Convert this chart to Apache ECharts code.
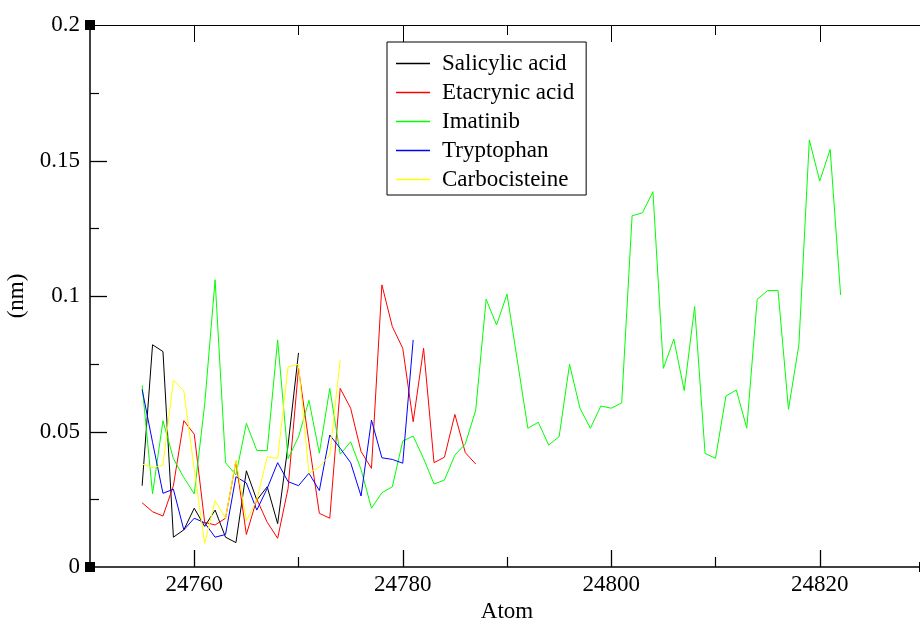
<!DOCTYPE html>
<html>
<head>
<meta charset="utf-8">
<script src="https://cdn.jsdelivr.net/npm/echarts@6/dist/echarts.min.js"></script>
<style>
html,body{margin:0;padding:0;background:#fff;}
#chart{width:920px;height:624px;}
</style>
</head>
<body>
<div id="chart"></div>
<script>
// Atom numbers (x values)
var atoms = [24755,24756,24757,24758,24759,24760,24761,24762,24763,24764,
  24765,24766,24767,24768,24769,24770,24771,24772,24773,24774,
  24775,24776,24777,24778,24779,24780,24781,24782,24783,24784,
  24785,24786,24787,24788,24789,24790,24791,24792,24793,24794,
  24795,24796,24797,24798,24799,24800,24801,24802,24803,24804,
  24805,24806,24807,24808,24809,24810,24811,24812,24813,24814,
  24815,24816,24817,24818,24819,24820,24821,24822];

var seriesNames = ["Salicylic acid","Etacrynic acid","Imatinib","Tryptophan","Carbocisteine"];

var salicylic = [0.030,0.082,0.0795,0.011,0.0137,0.0217,0.015,0.021,0.011,0.009,
  0.0355,0.0247,0.0296,0.016,0.045,0.079];

var etacrynic = [0.0237,0.0204,0.0188,0.030,0.054,0.049,0.0165,0.0155,0.018,0.039,
  0.012,0.025,0.0165,0.0106,0.029,0.0733,0.046,0.0198,0.018,0.0659,
  0.0586,0.0426,0.0364,0.1041,0.0887,0.0807,0.0536,0.0807,0.0385,0.0405,
  0.0563,0.0422,0.038];

var imatinib = [0.067,0.027,0.054,0.040,0.033,0.027,0.060,0.106,0.0385,0.034,
  0.053,0.043,0.043,0.0838,0.040,0.048,0.0615,0.042,0.0659,0.0416,
  0.0462,0.036,0.0217,0.0274,0.0296,0.0465,0.0483,0.040,0.0306,0.0321,
  0.0413,0.0454,0.0579,0.0988,0.0893,0.1007,0.076,0.0512,0.0534,0.045,
  0.0481,0.0748,0.0586,0.0512,0.0594,0.0586,0.0605,0.1296,0.1307,0.1385,
  0.0733,0.0841,0.0651,0.0961,0.0419,0.0401,0.0631,0.0653,0.0512,0.0988,
  0.102,0.102,0.0582,0.082,0.1576,0.1424,0.1541,0.1004];

var tryptophan = [0.0655,0.046,0.0272,0.0287,0.0137,0.018,0.0163,0.011,0.012,0.0333,
  0.031,0.021,0.029,0.0385,0.0315,0.030,0.0346,0.0282,0.0487,0.0438,
  0.0385,0.0262,0.0542,0.0403,0.0397,0.0383,0.0838];

var carbocisteine = [0.038,0.0367,0.0376,0.069,0.065,0.036,0.0087,0.0245,0.018,0.0395,
  0.017,0.0247,0.0407,0.040,0.0739,0.0748,0.0346,0.037,0.0413,0.0764];

var seriesColors = ["#000000","#ff0000","#00ff00","#0000ff","#ffff00"];

var xMin = 24750, xMax = 24830;
var xMajorTicks = [24760,24780,24800,24820];
var xMinorTicks = [24770,24790,24810,24830];
var yMin = 0, yMax = 0.2, yInterval = 0.05;
var yMajorTicks = [0.05, 0.1, 0.15];
var yMinorTicks = [0.025, 0.075, 0.125, 0.175];

var allValues = [salicylic, etacrynic, imatinib, tryptophan, carbocisteine];

var FONT = "Liberation Serif";

var chart = echarts.init(document.getElementById('chart'), null, {renderer:'canvas'});

function pairs(vals){
  return vals.map(function(v,i){ return [atoms[i], v]; });
}

var series = allValues.map(function(vals, k){
  return {
    name: seriesNames[k],
    type: 'line',
    data: pairs(vals),
    showSymbol: false,
    symbol: 'none',
    color: seriesColors[k],
    lineStyle: {color: seriesColors[k], width: 1},
    xAxisIndex: 0,
    yAxisIndex: 0,
    z: 2
  };
});

function assign(a, extra){ for (var k in extra) a[k] = extra[k]; return a; }

function xAxisBase(extra){
  return assign({
    type: 'value', min: xMin, max: xMax,
    gridIndex: 0,
    splitLine: {show:false},
    axisLine: {show:false, onZero:false},
    axisTick: {show:false},
    axisLabel: {show:false}
  }, extra);
}
function yAxisBase(extra){
  return assign({
    type: 'value', min: yMin, max: yMax, interval: yInterval,
    gridIndex: 0, position: 'left',
    splitLine: {show:false},
    axisLine: {show:false, onZero:false},
    axisTick: {show:false},
    axisLabel: {show:false}
  }, extra);
}
function tickSet(vals, len, w){
  return {show: true, inside: true, length: len, customValues: vals, lineStyle: {color:'#000', width: w}};
}

var option = {
  animation: false,
  backgroundColor: '#ffffff',
  grid: {left: 90, top: 25, width: 834, height: 542, containLabel: false, outerBoundsMode: 'none'},
  legend: {
    orient: 'vertical',
    left: 387, top: 42,
    data: seriesNames,
    icon: 'rect',
    itemWidth: 34, itemHeight: 1.5,
    itemGap: 6,
    padding: [10, 12, 4, 9],
    borderColor: '#000', borderWidth: 1,
    backgroundColor: '#ffffff',
    textStyle: {fontFamily: FONT, fontSize: 23, color: '#000', lineHeight: 23, padding: [0,0,0,7]},
    selectedMode: false,
    z: 10
  },
  xAxis: [
    xAxisBase({
      position: 'bottom',
      name: 'Atom', nameLocation: 'middle', nameGap: 28,
      nameTextStyle: {fontFamily: FONT, fontSize: 23, color: '#000'},
      axisLine: {show: true, onZero: false, lineStyle: {color: '#000', width: 1.5}},
      axisLabel: {show: true, customValues: xMajorTicks, margin: 6, fontFamily: FONT, fontSize: 23, color: '#000',
        formatter: function(v){ return String(v); }}
    }),
    xAxisBase({ position: 'bottom', axisTick: tickSet(xMinorTicks, 10, 1.2) }),
    xAxisBase({
      position: 'top',
      axisLine: {show: true, onZero: false, lineStyle: {color: '#000', width: 1}},
      axisTick: tickSet(xMajorTicks, 17, 1)
    }),
    xAxisBase({ position: 'top', axisTick: tickSet(xMinorTicks, 10, 1) })
  ],
  yAxis: [
    yAxisBase({
      name: '(nm)', nameLocation: 'middle', nameGap: 49, nameRotate: 90,
      nameTextStyle: {fontFamily: FONT, fontSize: 23, color: '#000'},
      axisLine: {show: true, onZero: false, lineStyle: {color: '#000', width: 1.5}},
      axisLabel: {show: true, margin: 10, fontFamily: FONT, fontSize: 23, color: '#000'}
    }),
    yAxisBase({ axisTick: tickSet(yMinorTicks, 9, 1.2) })
  ],
  series: series
};

chart.setOption(option);

// axis frame decorations (corner markers and major ticks), placed through the axis scales
var graphics = [];
var corners = [[xMin, yMin], [xMin, yMax], [xMax, yMin]];
corners.forEach(function(c){
  var p = chart.convertToPixel({xAxisIndex: 0, yAxisIndex: 0}, c);
  graphics.push({
    type: 'rect',
    shape: {x: p[0] - 5, y: p[1] - 5, width: 10, height: 10},
    style: {fill: '#000'},
    z: 20
  });
});
xMajorTicks.forEach(function(v){
  var p = chart.convertToPixel({xAxisIndex: 0, yAxisIndex: 0}, [v, yMin]);
  var x = Math.round(p[0]) + 0.5;
  graphics.push({
    type: 'line',
    shape: {x1: x, y1: p[1], x2: x, y2: p[1] - 17},
    style: {stroke: '#000', lineWidth: 1.3},
    z: 20
  });
});
yMajorTicks.forEach(function(v){
  var p = chart.convertToPixel({xAxisIndex: 0, yAxisIndex: 0}, [xMin, v]);
  var y = Math.round(p[1]) + 0.5;
  graphics.push({
    type: 'line',
    shape: {x1: p[0], y1: y, x2: p[0] + 17, y2: y},
    style: {stroke: '#000', lineWidth: 1.3},
    z: 20
  });
});
chart.setOption({graphic: graphics});
</script>
</body>
</html>
